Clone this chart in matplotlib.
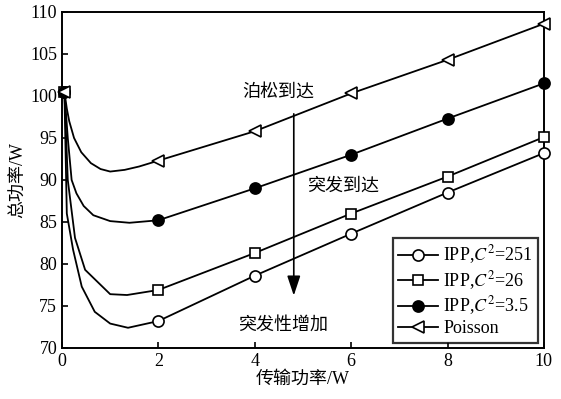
import matplotlib.pyplot as plt
import numpy as np

plt.rcParams['font.family'] = ['Liberation Serif', 'Noto Sans CJK SC']
plt.rcParams['mathtext.fontset'] = 'stix'

# curve points (x, total power)
x_poisson = [0.05, 0.1, 0.15, 0.25, 0.4, 0.6, 0.8, 1.0, 1.3, 1.6, 2, 4, 6, 8, 10]
y_poisson = [100.5, 98.5, 97.0, 95.0, 93.3, 92.0, 91.3, 91.0, 91.2, 91.6, 92.3, 95.8, 100.3, 104.3, 108.6]

x_c35 = [0.05, 0.12, 0.2, 0.3, 0.45, 0.65, 1.0, 1.4, 2, 4, 6, 8, 10]
y_c35 = [100.5, 95.0, 90.0, 88.4, 86.9, 85.8, 85.1, 84.9, 85.2, 89.0, 93.0, 97.3, 101.5]

x_c26 = [0.05, 0.12, 0.27, 0.48, 1.0, 1.35, 2, 4, 6, 8, 10]
y_c26 = [100.5, 90.0, 83.1, 79.3, 76.4, 76.3, 76.9, 81.3, 86.0, 90.4, 95.1]

x_c251 = [0.05, 0.1, 0.23, 0.41, 0.68, 1.0, 1.37, 2, 4, 6, 8, 10]
y_c251 = [100.5, 86.0, 81.7, 77.3, 74.3, 72.9, 72.4, 73.2, 78.6, 83.6, 88.5, 93.2]

marker_x = [0.05, 2, 4, 6, 8, 10]

fig = plt.figure(figsize=(5.61, 3.99), dpi=100)
ax = fig.add_axes([0.1105, 0.128, 0.859, 0.842])

series = [
    (x_c251, y_c251, 'o', 'white', 'IPP,$C^2$=251'),
    (x_c26, y_c26, 's', 'white', 'IPP,$C^2$=26'),
    (x_c35, y_c35, 'o', 'black', 'IPP,$C^2$=3.5'),
    (x_poisson, y_poisson, '<', 'white', 'Poisson'),
]
for xs, ys, m, fc, lab in series:
    idx = [xs.index(v) for v in marker_x]
    ax.plot(xs, ys, color='black', lw=1.3, marker=m, markevery=idx,
            markersize=8 if m != 's' else 7, markerfacecolor=fc,
            markeredgecolor='black', markeredgewidth=1.2, label=lab,
            clip_on=False, zorder=3)

ax.set_xlim(0, 10)
ax.set_ylim(70, 110)
ax.set_xticks([0, 2, 4, 6, 8, 10])
ax.set_yticks(np.arange(70, 111, 5))
ax.tick_params(direction='in', labelsize=13, length=4, width=1.2)
for s in ax.spines.values():
    s.set_linewidth(1.4)

ax.set_xlabel('传输功率/W', fontsize=13, labelpad=1)
ax.set_ylabel('总功率/W', fontsize=13, labelpad=2)

ax.text(4.48, 100.4, '泊松到达', fontsize=13, ha='center', va='center')
ax.text(5.83, 89.3, '突发到达', fontsize=13, ha='center', va='center')
ax.text(4.59, 72.7, '突发性增加', fontsize=13, ha='center', va='center')
ax.annotate('', xy=(4.81, 75.9), xytext=(4.81, 98.2),
            arrowprops=dict(arrowstyle='-|>,head_length=1.2,head_width=0.4',
                            color='black', lw=1.2))

leg = ax.legend(loc='lower right', fontsize=13, frameon=True, fancybox=False,
                edgecolor='black', borderaxespad=0.3, handlelength=2.2,
                labelspacing=0.15, borderpad=0.3, handletextpad=0.3)
leg.get_frame().set_linewidth(1.6)
leg.set_zorder(5)

fig.savefig('out.png', dpi=100)
